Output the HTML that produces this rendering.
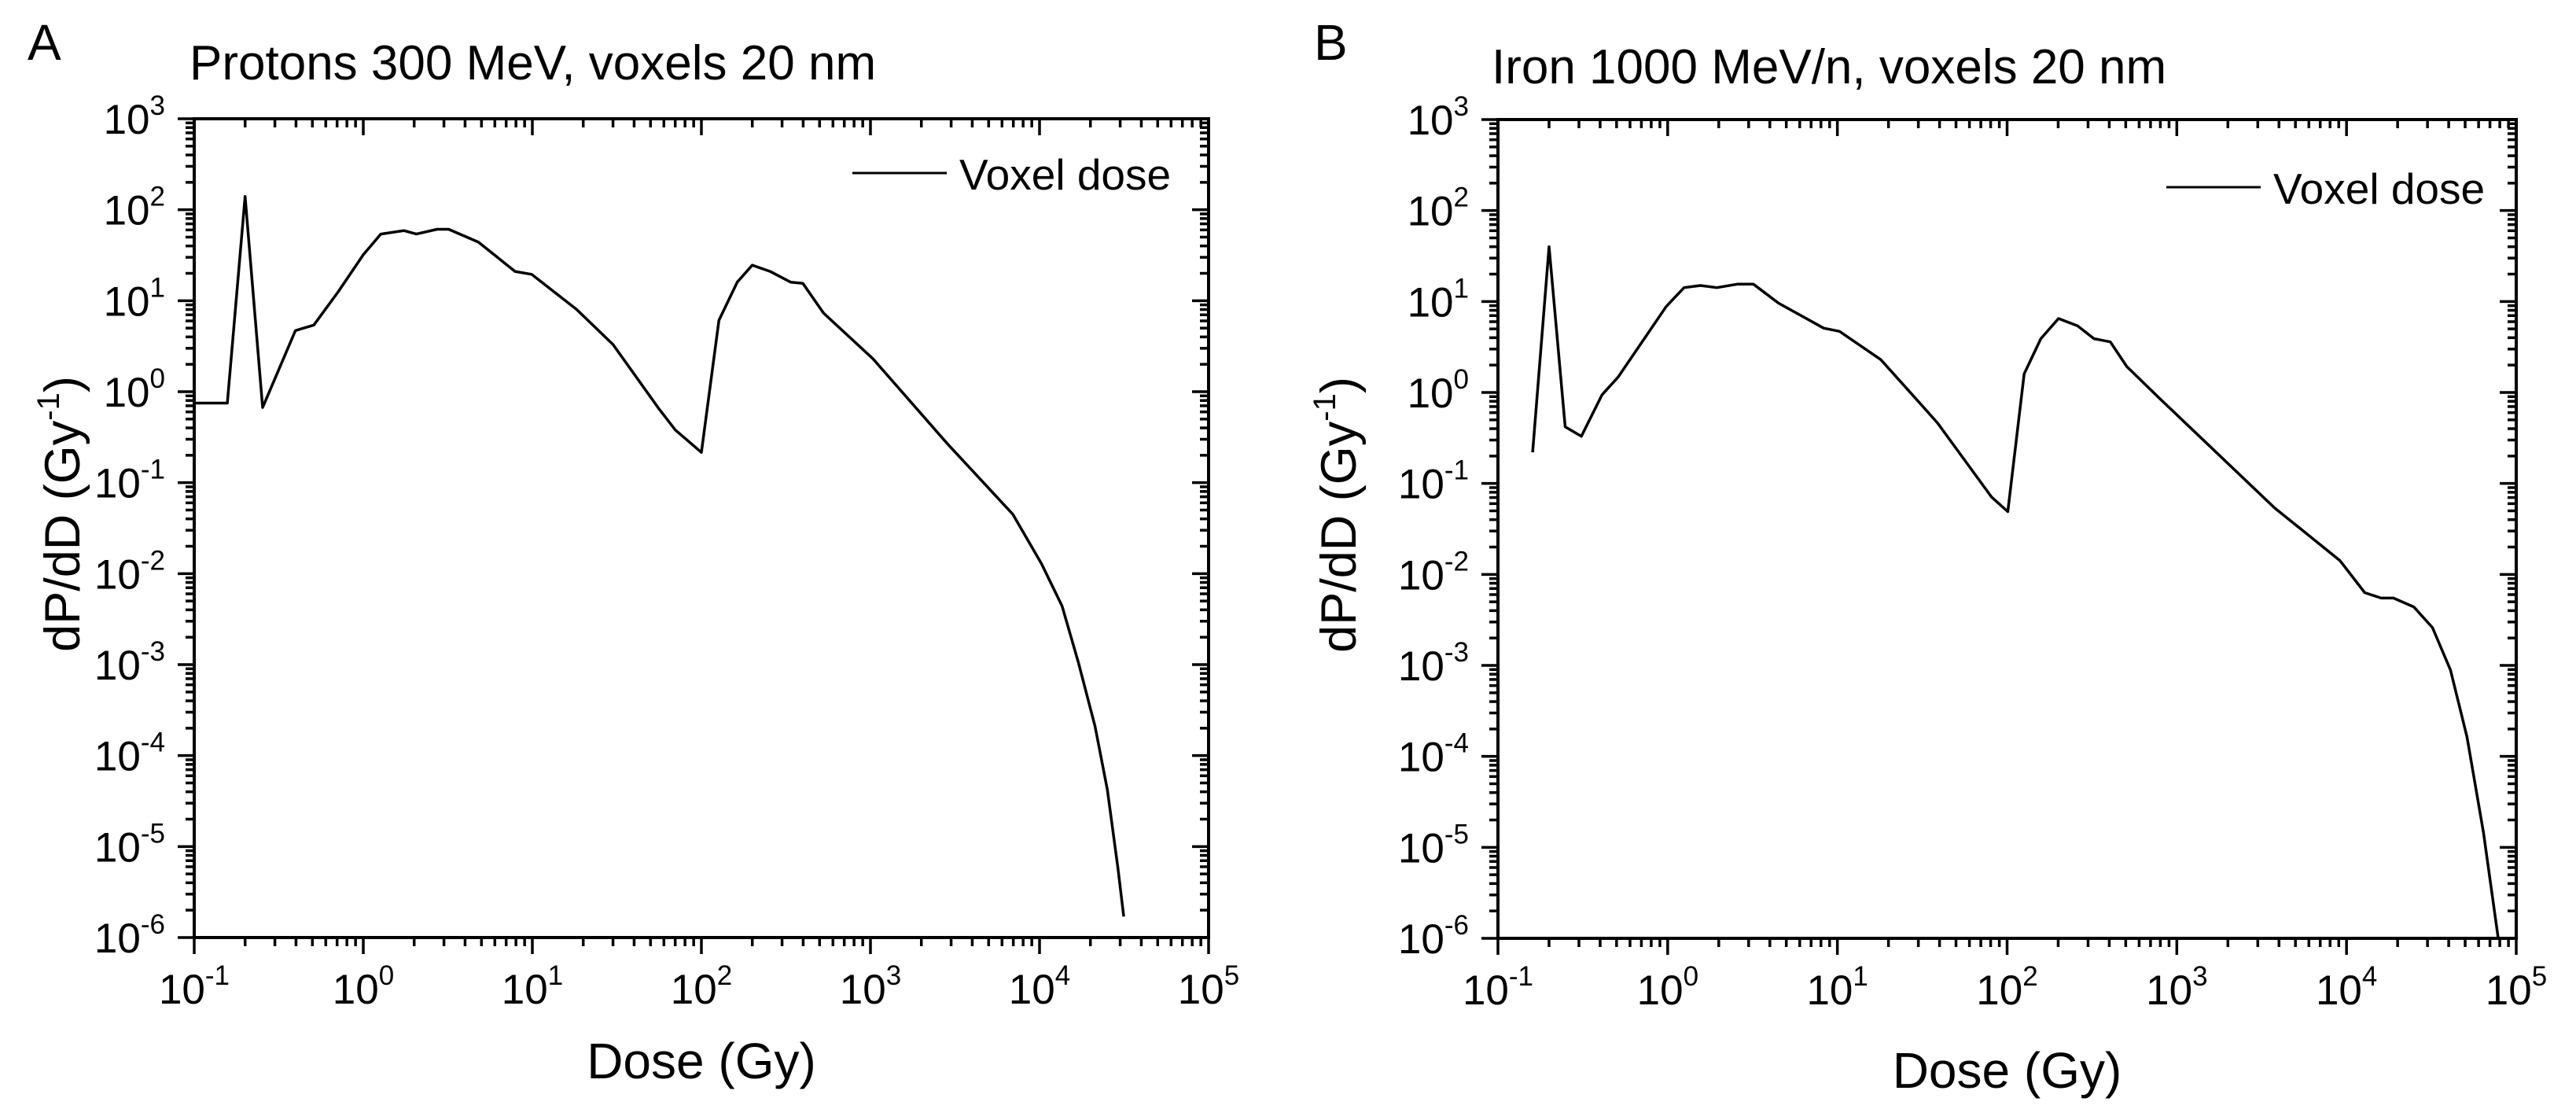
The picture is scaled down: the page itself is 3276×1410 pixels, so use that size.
<!DOCTYPE html>
<html><head><meta charset="utf-8"><style>
html,body{margin:0;padding:0;background:#fff;}
svg{display:block;font-family:"Liberation Sans",Arial,sans-serif;}
</style></head><body>
<svg id="chart" width="3276" height="1410" viewBox="0 0 3276 1410" xmlns="http://www.w3.org/2000/svg"></svg>
<script>
// Panel A data (Protons 300 MeV)
const doseA = [0.1,0.157,0.2,0.254,0.397,0.51,0.71,1.0,1.27,1.74,2.06,2.73,3.2,4.8,7.9,9.9,18.3,30,56,70,100,127,163,200,255,337,398,528,1035,2840,6950,10300,13600,17000,21300,25200,29100,31500];
const probA = [0.75,0.75,140,0.67,4.7,5.4,12.5,32,54,59,54,61,61,44,21,19.5,8,3.3,0.65,0.38,0.215,6.1,16,24.6,21,16,15.5,7.3,2.3,0.27,0.045,0.0127,0.0044,0.00105,0.00021,4.2e-5,5.8e-6,1.7e-6];
// Panel B data (Iron 1000 MeV/n)
const doseB = [0.16,0.2,0.249,0.31,0.41,0.51,0.98,1.25,1.56,1.95,2.57,3.2,4.5,8.3,10.3,18,31.5,39,81,101,126,158,201,260,325,406,507,792,3760,9150,12800,16000,18900,24900,32100,41000,51300,64100,78300];
const probB = [0.22,40,0.42,0.33,0.94,1.47,8.8,14.2,15,14.2,15.5,15.5,9.6,5.1,4.7,2.3,0.72,0.46,0.071,0.049,1.6,3.9,6.5,5.4,3.9,3.6,1.93,0.86,0.054,0.0142,0.0063,0.0055,0.0055,0.0044,0.0026,0.00089,0.000163,1.46e-5,1e-6];
const xExps = [-1,0,1,2,3,4,5];
const yExps = [3,2,1,0,-1,-2,-3,-4,-5,-6];

const NS = "http://www.w3.org/2000/svg";
const svg = document.getElementById('chart');
function mk(tag, attrs, parent){const e=document.createElementNS(NS,tag);for(const k in attrs)e.setAttribute(k,attrs[k]);(parent||svg).appendChild(e);return e;}

function panel(p){
  const g = mk('g',{});
  
  
  const L=p.L,R=p.R,T=p.T,B=p.B;
  const xs = v => L + (Math.log10(v)+1)/6*(R-L);
  const ys = v => T + (3-Math.log10(v))/9*(B-T);
  const tk = mk('g',{stroke:'#000','stroke-width':3.5},g);
  
  
  for(let e=-1;e<=5;e++){
    for(let m=1;m<=9;m++){
      if(e===5&&m>1)break;
      const x = xs(m*Math.pow(10,e));
      const len = m===1?21:11;
      mk('line',{x1:x,y1:B,x2:x,y2:B+len},tk);
      mk('line',{x1:x,y1:T,x2:x,y2:T+len},tk);
    }
  }
  for(let e=-6;e<=3;e++){
    for(let m=1;m<=9;m++){
      if(e===3&&m>1)break;
      const y = ys(m*Math.pow(10,e));
      const len = m===1?21:11;
      mk('line',{x1:L,y1:y,x2:L-len,y2:y},tk);
      mk('line',{x1:R,y1:y,x2:R-len,y2:y},tk);
    }
  }
  const fr = mk('rect',{x:L,y:T,width:R-L,height:B-T,fill:'none',stroke:'#000','stroke-width':4},g);
  
  
  xExps.forEach(e=>{
    const t = mk('text',{x:xs(Math.pow(10,e)),y:B+84,'font-size':53,'text-anchor':'middle',fill:'#000'},g);
    
    
    t.appendChild(document.createTextNode('10'));
    const s = mk('tspan',{dy:-24,'font-size':35},t); s.textContent=String(e);
  });
  yExps.forEach(e=>{
    const t = mk('text',{x:L-37,y:ys(Math.pow(10,e))+19,'font-size':53,'text-anchor':'end',fill:'#000'},g);
    
    
    t.appendChild(document.createTextNode('10'));
    const s = mk('tspan',{dy:-24,'font-size':35},t); s.textContent=String(e);
  });
  let d='';
  p.dose.forEach((v,i)=>{d+=(i?'L':'M')+xs(v).toFixed(1)+','+ys(p.prob[i]).toFixed(1);});
  const ln = mk('path',{d:d,fill:'none',stroke:'#000','stroke-width':3.5,'stroke-linejoin':'round'},g);
  
  
  const lg = mk('g',{},g);
  
  
  mk('line',{x1:p.legX,y1:p.legY,x2:p.legX+120,y2:p.legY,stroke:'#000','stroke-width':3},lg);
  const lt = mk('text',{x:p.legX+136,y:p.legY+21,'font-size':55,fill:'#000'},lg); lt.textContent='Voxel dose';
  const ti = mk('text',{x:p.titleX,y:p.titleY,'font-size':62,fill:'#000'},g); ti.textContent=p.title;
  
  
  const le = mk('text',{x:p.letterX,y:76,'font-size':64,fill:'#000'},g); le.textContent=p.letter;
  
  
  const xt = mk('text',{x:(L+R)/2,y:p.xtY,'font-size':64,'text-anchor':'middle',fill:'#000'},g); xt.textContent='Dose (Gy)';
  
  
  const cy=(T+B)/2-18;
  const yt = mk('text',{x:0,y:0,'font-size':63,'text-anchor':'middle',fill:'#000',transform:'translate('+p.ytX+','+cy+') rotate(-90)'},g);
  
  
  yt.appendChild(document.createTextNode('dP/dD (Gy'));
  const s1=mk('tspan',{dy:-26,'font-size':40},yt); s1.textContent='-1';
  const s2=mk('tspan',{dy:26},yt); s2.textContent=')';
}
panel({id:'panel-a',L:247,R:1537,T:151,B:1192,dose:doseA,prob:probA,legX:1084,legY:220,title:'Protons 300 MeV, voxels 20 nm',titleX:241,titleY:101,letter:'A',letterX:35,xtY:1371,ytX:101});
panel({id:'panel-b',L:1905,R:3200,T:152,B:1193,dose:doseB,prob:probB,legX:2755,legY:238,title:'Iron 1000 MeV/n, voxels 20 nm',titleX:1897,titleY:106,letter:'B',letterX:1671,xtY:1383,ytX:1724});
</script>
</body></html>
